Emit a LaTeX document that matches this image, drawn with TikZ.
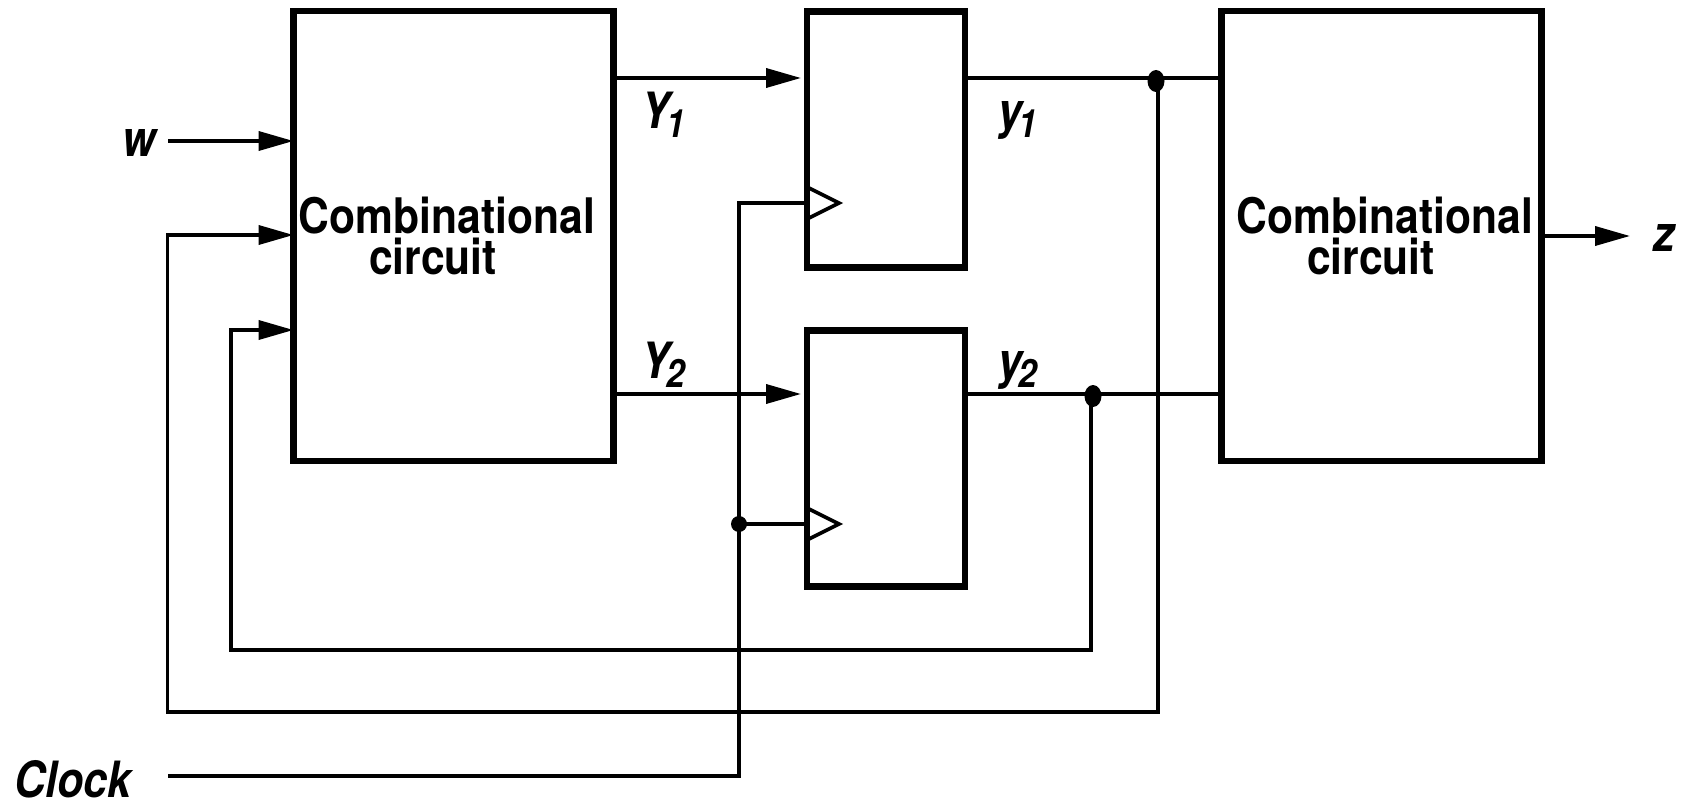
\documentclass[tikz,border=0pt]{standalone}
\usepackage{fontspec}
\setmainfont{TeX Gyre Heros}
\newfontfamily\boxfont[FakeStretch=0.87,BoldFont={* Bold}]{TeX Gyre Heros}
\newfontfamily\sigfont[FakeStretch=0.86]{TeX Gyre Heros}
\usetikzlibrary{arrows.meta,shapes.geometric}
\tikzset{
  blockbox/.style={draw=black,line width=6.3pt,fill=none,inner sep=0pt,outer sep=0pt,minimum width=#1},
  blockbox/.default=320pt,
  wire/.style={draw=black,line width=3.7pt,line join=miter},
  arrowwire/.style={wire,-{Triangle[length=35pt,width=19pt]}},
  dotnode/.style={ellipse,fill=black,inner sep=0pt,minimum width=17pt,minimum height=22pt},
  boxtext/.style={inner sep=0pt,font=\boxfont\bfseries\fontsize{49}{55}\selectfont,anchor=base},
  sig/.style={inner sep=0pt,font=\sigfont\bfseries\itshape\fontsize{50}{55}\selectfont,anchor=base},
  trig/.style={draw=black,line width=3.7pt,line join=miter}
}
\newcommand{\subsc}[1]{\kern-4pt\raisebox{-9pt}{\fontsize{39}{45}\selectfont #1}}
\begin{document}
\begin{tikzpicture}[x=1pt,y=-1pt]
\useasboundingbox (0,0) rectangle (1684,802);
% blocks
\node[blockbox=320pt,minimum height=450pt] (cl) at (453.5,236) {};
\node[blockbox=158pt,minimum height=256pt] (ffa) at (886,139.5) {};
\node[blockbox=158pt,minimum height=256pt] (ffb) at (886,458.5) {};
\node[blockbox=320pt,minimum height=450pt] (cr) at (1381.5,236) {};
% block texts
\node[boxtext] (cla) at (447,234) {Combinational};
\node[boxtext] (clb) at (433,275) {circuit};
\node[boxtext] (cra) at (1385,234) {Combinational};
\node[boxtext] (crb) at (1371,275) {circuit};
% signal labels
\node[sig] (w) at (139,157) {w};
\node[sig] (z) at (1664,252) {z};
\node[sig] (clk) at (73,797) {Clock};
\node[sig] (lY1) at (663,129) {Y\subsc{1}};
\node[sig] (lY2) at (663,378) {Y\subsc{2}};
\node[sig] (ly1) at (1018,129) {y\subsc{1}};
\node[sig] (ly2) at (1018,378) {y\subsc{2}};
% junction and end points
\coordinate (wS) at (168,141);
\coordinate (Ya) at (801,78);
\coordinate (Yb) at (801,394);
\coordinate (ja) at (1158,81);
\coordinate (jb) at (1091,396);
\coordinate (jc) at (739,524);
\coordinate (clkS) at (168,776);
\coordinate (zT) at (1630,236);
\node[dotnode] (da) at (1156,81) {};
\node[dotnode] (db) at (1093,396) {};
\node[dotnode,minimum width=16pt,minimum height=16pt] (dc) at (739,524) {};
% wires
\draw[arrowwire] (wS) -- (wS -| cl.west);
\draw[arrowwire] (cl.east |- Ya) -- (Ya);
\draw[arrowwire] (cl.east |- Yb) -- (Yb);
\draw[arrowwire] (cr.east |- zT) -- (zT);
\draw[wire] (ffa.east |- Ya) -- (cr.west |- Ya);
\draw[wire] (ffb.east |- Yb) -- (cr.west |- Yb);
\draw[arrowwire] (ja) -- (1158,712) -- (167.5,712) -- (167.5,235) -- (cl.west |- 0,235);
\draw[arrowwire] (jb) -- (1091,650) -- (231,650) -- (231,330) -- (cl.west |- 0,330);
\draw[wire] (clkS) -- (jc |- clkS) -- (739,203) -- (ffa.west |- 0,203);
\draw[wire] (dc.center) -- (ffb.west |- dc);
% clock triangles
\coordinate (ta) at (ffa.west |- 0,203);
\coordinate (tb) at (ffb.west |- dc);
\draw[trig] (ta) ++(0,-16) -- ++(32,16) -- ++(-32,16);
\draw[trig] (tb) ++(0,-16) -- ++(32,16) -- ++(-32,16);
\end{tikzpicture}
\end{document}
